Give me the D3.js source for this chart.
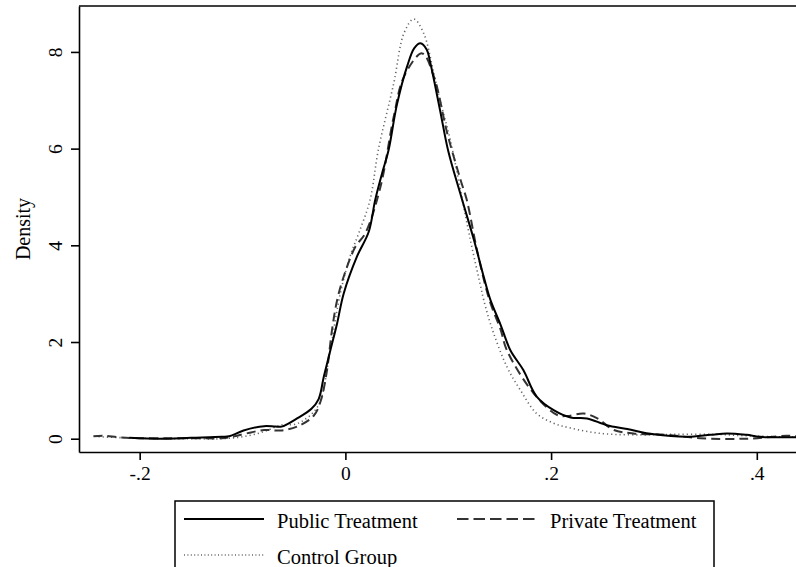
<!DOCTYPE html>
<html>
<head>
<meta charset="utf-8">
<script src="https://cdn.jsdelivr.net/npm/d3@7"></script>
<style>
  html, body { margin: 0; padding: 0; background: #fff; }
  svg text { font-family: "Liberation Serif", "DejaVu Serif", serif; fill: #000; }
</style>
</head>
<body>
<div id="chart"></div>
<script>
// ----- dati: [x, densità]
var publicTreatment = [
    [-0.21, 0.02], [-0.18, 0.00], [-0.15, 0.02], [-0.12, 0.04], [-0.113, 0.05],
    [-0.099, 0.17], [-0.079, 0.26], [-0.068, 0.25], [-0.062, 0.25], [-0.047, 0.42],
    [-0.033, 0.62], [-0.026, 0.82], [-0.021, 1.28], [-0.0146, 1.83], [-0.008, 2.39],
    [-0.0017, 3.0], [0.0113, 3.77], [0.0227, 4.28], [0.029, 4.94], [0.0357, 5.49],
    [0.042, 5.97], [0.05, 6.9], [0.06, 7.7], [0.067, 8.08], [0.073, 8.18],
    [0.079, 8.05], [0.0826, 7.77], [0.092, 6.8], [0.1, 5.95], [0.112, 5.05],
    [0.125, 4.11], [0.1345, 3.35], [0.141, 2.87], [0.151, 2.35], [0.1604, 1.83],
    [0.173, 1.42], [0.186, 0.87], [0.2025, 0.59], [0.219, 0.44], [0.235, 0.42],
    [0.254, 0.28], [0.274, 0.20], [0.30, 0.09], [0.332, 0.04], [0.355, 0.08],
    [0.371, 0.11], [0.39, 0.08], [0.403, 0.04], [0.426, 0.03], [0.44, 0.03]
];

var privateTreatment = [
    [-0.245, 0.05], [-0.235, 0.06], [-0.22, 0.03], [-0.2, 0.01], [-0.17, 0.01],
    [-0.14, 0.01], [-0.12, 0.01], [-0.11, 0.04], [-0.096, 0.11], [-0.079, 0.18],
    [-0.063, 0.17], [-0.047, 0.25], [-0.031, 0.47], [-0.024, 0.78], [-0.018, 1.4],
    [-0.013, 2.25], [-0.008, 2.87], [-0.0017, 3.35], [0.0097, 3.97], [0.0194, 4.25],
    [0.034, 5.2], [0.047, 6.66], [0.057, 7.49], [0.0746, 7.97], [0.086, 7.49],
    [0.099, 6.32], [0.112, 5.35], [0.118, 4.94], [0.128, 3.9], [0.14, 2.87],
    [0.151, 2.25], [0.157, 1.83], [0.183, 0.94], [0.206, 0.49], [0.2156, 0.47],
    [0.232, 0.52], [0.245, 0.42], [0.261, 0.18], [0.28, 0.11], [0.312, 0.08],
    [0.345, 0.01], [0.39, 0.0], [0.429, 0.06], [0.44, 0.05]
];

var controlGroup = [
    [-0.24, 0.04], [-0.2, 0.01], [-0.15, 0.0], [-0.12, 0.0], [-0.1, 0.04],
    [-0.08, 0.14], [-0.063, 0.28], [-0.047, 0.31], [-0.031, 0.55], [-0.024, 0.8],
    [-0.015, 1.8], [-0.005, 3.0], [0.005, 3.8], [0.013, 4.25], [0.024, 4.94],
    [0.032, 5.97], [0.047, 7.35], [0.057, 8.39], [0.0665, 8.68], [0.076, 8.39],
    [0.086, 7.56], [0.092, 7.0], [0.102, 6.18], [0.1215, 4.11], [0.131, 3.2],
    [0.1345, 2.87], [0.143, 2.25], [0.157, 1.49], [0.17, 1.01], [0.186, 0.52],
    [0.2025, 0.32], [0.219, 0.22], [0.248, 0.11], [0.28, 0.08], [0.32, 0.09],
    [0.36, 0.09], [0.39, 0.06], [0.42, 0.04], [0.44, 0.03]
];

var seriesNames = ["Public Treatment", "Private Treatment", "Control Group"];
var xTicks = [-0.2, 0, 0.2, 0.4];
var xTickLabels = ["-.2", "0", ".2", ".4"];
var yTicks = [0, 2, 4, 6, 8];
var yTickLabels = ["0", "2", "4", "6", "8"];

// ----- dimensioni
var w = 796;
var h = 567;
var box = { left: 79, top: 6, right: 800, bottom: 452 };

var svg = d3.select('#chart').append('svg')
    .attr('width', w).attr('height', h)
    .attr('viewBox', '0 0 ' + w + ' ' + h);

// ----- scale (l'area del grafico va da -.259 a .44 e da -.275 a 8.95)
var x = d3.scaleLinear().domain([-0.259, 0.442]).range([box.left, box.right]);
var y = d3.scaleLinear().domain([-0.275, 8.95]).range([box.bottom, box.top]);

// ----- bordo superiore del riquadro
svg.append('line')
    .attr('x1', box.left).attr('x2', box.right)
    .attr('y1', box.top).attr('y2', box.top)
    .attr('stroke', '#000').attr('stroke-width', 1.6);

// ----- assi
var xAxis = d3.axisBottom(x)
    .tickValues(xTicks)
    .tickSize(8).tickSizeOuter(0).tickPadding(6)
    .tickFormat(function (d, i) { return xTickLabels[i]; });

var gx = svg.append('g')
    .attr('transform', 'translate(0,' + box.bottom + ')')
    .call(xAxis);
gx.selectAll('path, line').attr('stroke', '#000').attr('stroke-width', 1.6);
gx.selectAll('text').attr('font-size', 19.5).attr('font-family', null);

var yAxis = d3.axisLeft(y)
    .tickValues(yTicks)
    .tickSize(8).tickSizeOuter(0)
    .tickFormat(function (d, i) { return yTickLabels[i]; });

var gy = svg.append('g')
    .attr('transform', 'translate(' + box.left + ',0)')
    .call(yAxis);
gy.selectAll('path, line').attr('stroke', '#000').attr('stroke-width', 1.6);
gy.selectAll('text')
    .attr('font-size', 19.5).attr('font-family', null)
    .attr('x', null).attr('dy', null)
    .attr('text-anchor', 'middle')
    .attr('transform', 'translate(-17.5,0) rotate(-90)');

// ----- titolo asse y
svg.append('text')
    .attr('transform', 'translate(30,' + 229 + ') rotate(-90)')
    .attr('text-anchor', 'middle')
    .attr('font-size', 20)
    .text('Density');

// ----- curve
var line = d3.line()
    .x(function (d) { return x(d[0]); })
    .y(function (d) { return y(d[1]); })
    .curve(d3.curveCatmullRom.alpha(0.5));

var styles = [
    { stroke: '#000', width: 2, dash: null },
    { stroke: '#333', width: 2, dash: '9,5' },
    { stroke: '#666', width: 1.6, dash: '1.2,3' }
];
var legendDash = [null, '11.5,5', '1,2.4'];

svg.append('clipPath').attr('id', 'plot-clip').append('rect')
    .attr('x', box.left).attr('y', box.top)
    .attr('width', box.right - box.left).attr('height', box.bottom - box.top);

var curvesLayer = svg.append('g').attr('clip-path', 'url(#plot-clip)');
[controlGroup, privateTreatment, publicTreatment].forEach(function (data, k) {
    var s = styles[2 - k];
    curvesLayer.append('path')
        .datum(data)
        .attr('d', line)
        .attr('fill', 'none')
        .attr('stroke', s.stroke)
        .attr('stroke-width', s.width)
        .attr('stroke-dasharray', s.dash)
        .attr('stroke-linejoin', 'round');
});

// ----- legenda
var legend = svg.append('g');
legend.append('rect')
    .attr('x', 175).attr('y', 501)
    .attr('width', 539).attr('height', 80)
    .attr('fill', '#fff').attr('stroke', '#000').attr('stroke-width', 1.5);

var legendPos = [
    { x: 184, y: 528 },
    { x: 457, y: 528 },
    { x: 184, y: 564 }
];

seriesNames.forEach(function (name, i) {
    var p = legendPos[i];
    legend.append('line')
        .attr('x1', p.x).attr('x2', p.x + 80)
        .attr('y1', p.y - 9).attr('y2', p.y - 9)
        .attr('stroke', styles[i].stroke)
        .attr('stroke-width', styles[i].width)
        .attr('stroke-dasharray', legendDash[i]);
    legend.append('text')
        .attr('x', p.x + 93).attr('y', p.y)
        .attr('font-size', 20.5)
        .text(name);
});
</script>
</body>
</html>
